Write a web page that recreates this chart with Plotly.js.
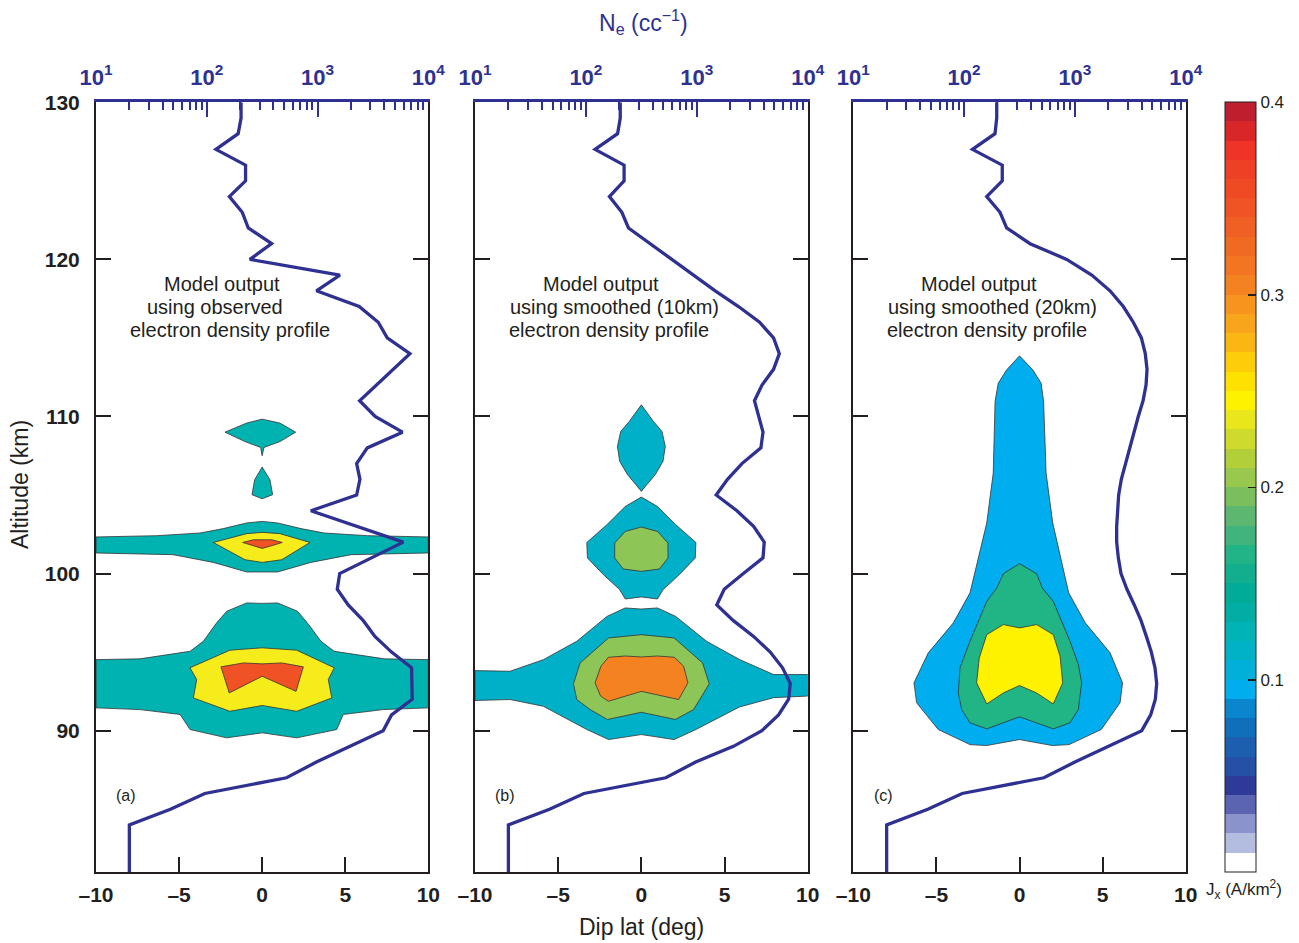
<!DOCTYPE html>
<html>
<head>
<meta charset="utf-8">
<script src="https://cdn.plot.ly/plotly-3.0.1.min.js"></script>
<style>html,body{margin:0;padding:0;background:#fff;}#chart{width:1299px;height:943px;}</style>
</head>
<body>
<div id="chart"></div>
<script>
// ---------------- DATA ----------------
// Electron density profiles (altitude km, Ne cc^-1)
const altA = [130,129,128,127,126,125,124,123,122,121,120,119,118,117,116,115,114,111,110,109,108,107,106,105,104,103,102,100,99,98,97,96,95,94,93,92,91,90,88,87,86,85,84,81];
const neA  = [204,204,192,121,224,224,160,209,237,385,245,1592,977,2377,3532,4256,6823,2399,3311,5848,2812,2254,2415,2254,871,2254,5943,1585,1507,1892,2588,3296,4656,7063,7161,7161,4656,3917,977,525,96,47,20,20];

const altB = [130,129,128,127,126,125,124,123,122,121,120,119,118,117,116,115,114,113,112,111,110,109,108,107,106,105,104,103,102,101,100,99,98,97,96,95,94,93,92,91,90,89,88,87,86,85,84,81];
const neB  = [204,204,193,121,221,221,163,211,242,380,596,933,1466,2377,3681,4920,5546,4920,3873,3311,3606,3954,3784,2553,1892,1496,2301,3251,4055,3954,2630,1766,1514,2138,3251,4592,5929,6966,6730,5458,3864,2138,977,525,96,47,20,20];

const altC = [130,129,128,127,126,125,124,123,122,121,120,119,118,117,116,115,114,113,112,111,110,109,108,107,106,105,104,103,102,101,100,99,98,97,96,95,94,93,92,91,90,88,87,86,85,84,81];
const neC  = [197,197,190,119,221,221,160,211,242,394,843,1419,2075,2735,3365,3981,4315,4477,4385,4121,3733,3412,3097,2831,2624,2483,2415,2382,2382,2466,2606,2951,3436,3954,4416,4898,5284,5470,5321,4831,4009,1000,525,96,47,20,20];

// Filled current-density contours (dip lat deg, altitude km)
// Panel (a)
const aBlobTopLat = [-2.24,-0.93,0,1.07,2.02,1.07,0.11,0,-0.09,-1.03,-2.24];
const aBlobTopAlt = [109.0,109.58,109.83,109.58,109.0,108.4,108.03,107.5,108.03,108.4,109.0];
const aBlobSmLat  = [0,0.47,0.63,0,-0.61,-0.45,0];
const aBlobSmAlt  = [106.78,105.97,105.02,104.76,105.02,105.97,106.78];
const aBandLat = [-10,-6.35,-3.74,-2.34,-0.93,0,0.93,2.34,3.74,6.35,10, 10,5.35,2.94,0.93,0,-0.93,-2.94,-5.35,-10,-10];
const aBandAlt = [102.33,102.41,102.58,102.86,103.22,103.32,103.22,102.86,102.58,102.41,102.33, 101.31,101.2,100.71,100.1,100.1,100.1,100.71,101.2,101.31,102.33];
const aBandYLat = [-2.94,-0.93,0,1.07,2.88,1.18,0,-1.03,-2.94];
const aBandYAlt = [101.98,102.54,102.62,102.54,101.98,100.88,100.71,100.88,101.98];
const aBandRLat = [-1.17,-0.53,0.57,1.21,0.57,0,-0.53,-1.17];
const aBandRAlt = [101.98,102.15,102.15,101.98,101.77,101.6,101.77,101.98];
const aLowLat = [-10,-7.35,-4.34,-3.54,-2.74,-2.13,-0.93,0,0.93,2.13,2.8,3.54,4.34,7.35,10, 10,7.29,4.88,4.49,2.08,0,-2.13,-4.34,-4.94,-7.35,-10,-10];
const aLowAlt = [94.52,94.57,95.05,95.69,96.86,97.6,98.13,98.1,98.13,97.6,96.75,95.69,95.05,94.57,94.52, 91.45,91.34,91.03,90.07,89.54,89.86,89.54,90.07,91.03,91.34,91.45,94.52];
const aLowYLat = [-4.34,-1.94,0,2.08,4.34,3.98,4.19,2.08,0,-1.94,-4.14,-3.94,-4.34];
const aLowYAlt = [94.0,95.12,95.27,95.12,94.0,93.25,92.08,91.23,91.6,91.23,92.08,93.25,94.0];
const aLowRLat = [-2.48,-1.13,0,1.18,2.48,2.04,0,-1.98,-2.48];
const aLowRAlt = [94.06,94.31,94.25,94.31,94.06,92.5,93.46,92.4,94.06];
// Panel (b)
const bBlobTopLat = [0,0.73,1.24,1.44,1.3,0.83,0.33,0,-0.33,-0.83,-1.3,-1.44,-1.24,-0.73,0];
const bBlobTopAlt = [110.74,109.68,109.05,108.09,107.14,106.29,105.66,105.23,105.66,106.29,107.14,108.09,109.05,109.68,110.74];
const bMidLat = [0,-0.97,-2.07,-3.28,-3.24,-2.28,-1.31,-0.97,0,0.97,1.31,2.28,3.24,3.28,2.07,0.97,0];
const bMidAlt = [104.87,104.27,103.11,101.98,100.99,99.93,98.98,98.38,98.51,98.38,98.98,99.93,100.99,101.98,103.11,104.27,104.87];
const bMidGLat = [-1.6,-0.97,0,0.97,1.6,1.6,1.09,0,-1.09,-1.6,-1.6];
const bMidGAlt = [101.94,102.68,102.96,102.68,101.94,100.99,100.29,100.14,100.29,100.99,101.94];
const bLowLat = [-10,-7.89,-5.89,-3.88,-2.07,-0.97,0,0.97,2.07,3.92,5.92,7.95,10, 10,7.95,5.89,3.28,1.97,0,-1.97,-3.28,-5.89,-7.89,-10,-10];
const bLowAlt = [93.82,93.78,94.52,95.69,97.27,97.81,97.74,97.81,97.27,95.69,94.52,93.57,93.57, 92.2,92.1,91.5,90.07,89.43,89.75,89.43,90.07,91.55,91.98,91.92,93.82];
const bLowGLat = [-4.08,-3.68,-1.97,0,1.97,3.68,4.08,3.14,2.04,0,-2.04,-3.08,-3.88,-4.08];
const bLowGAlt = [92.98,94.31,95.9,96.11,95.9,94.31,92.98,91.34,90.71,91.17,90.71,91.34,91.98,92.98];
const bLowOLat = [-2.78,-2.43,-1.98,-0.97,0,0.97,1.98,2.54,2.8,2.24,0,-1.98,-2.45,-2.78];
const bLowOAlt = [93.04,94.1,94.67,94.75,94.69,94.75,94.67,94.1,93.04,91.98,92.5,91.87,92.2,93.04];
// Panel (c)
const cOutLat = [0,-0.77,-1.28,-1.47,-1.58,-1.97,-2.98,-3.98,-5.49,-6.35,-6.19,-4.89,-2.98,-1.98,0,1.98,2.98,4.92,6.05,6.2,5.45,3.96,2.96,2.0,1.6,1.45,1.3,0.8,0];
const cOutAlt = [113.86,112.97,112.12,110.95,106.4,103.22,98.77,96.86,94.95,93.04,91.77,90.07,89.11,89.05,89.43,89.05,89.11,90.07,91.77,93.04,94.95,96.86,98.77,103.22,106.4,110.95,112.12,112.97,113.86];
const cGrnLat = [0,-0.97,-1.37,-1.97,-2.98,-3.58,-3.68,-3.48,-2.98,-1.97,0,2.04,3.04,3.54,3.74,3.54,3.04,2.03,1.37,1.03,0];
const cGrnAlt = [100.63,99.99,99.08,98.23,95.69,94.0,92.4,91.34,90.5,90.11,90.88,90.11,90.5,91.34,93.04,94.2,95.69,98.23,99.08,99.99,100.63];
const cYelLat = [-1.97,-0.97,0,1.03,2.03,2.44,2.6,2.03,1.03,0,-0.97,-1.97,-2.58,-2.42,-1.97];
const cYelAlt = [96.11,96.75,96.54,96.75,96.11,94.74,93.04,91.7,92.4,92.87,92.4,91.7,93.04,94.63,96.11];

// Colour bar (J_x, A/km^2) — one colour per 0.01 band from 0 to 0.4
const cbarColors = ['#ffffff','#b3bde0','#8a93cc','#5a64b0','#2e3a97','#2650a5','#1b5fae','#106fbb','#0a86cf','#00aeef',
  '#00b0d8','#00b2c6','#00b3b5','#00aea6','#00ac98','#12ae8e','#22b487','#40b47c','#5cb870','#7abe5e',
  '#98c84e','#b2cf3a','#cfdb2c','#eae61c','#fff200','#ffe100','#fdcd0a','#fbb614','#f8a51b','#f6941e',
  '#f58220','#f37521','#f16a22','#f05f23','#f05424','#ef4a24','#ee4025','#ed3426','#d92629','#be1e2d'];
const cbarTicks = [0.1,0.2,0.3,0.4];
const cbarTickText = ['0.1','0.2','0.3','0.4'];

const latTicks = [-10,-5,0,5,10];
const latTickText = ['\u201310','\u20135','0','5','10'];
const altTicks = [90,100,110,120,130];
const neTicks = [10,100,1000,10000];
const neTickText = ['10<sup>1</sup>','10<sup>2</sup>','10<sup>3</sup>','10<sup>4</sup>'];
const neMinor = [20,30,40,50,60,70,80,90,200,300,400,500,600,700,800,900,2000,3000,4000,5000,6000,7000,8000,9000];

// ---------------- STYLE ----------------
const FONT = 'Liberation Sans, Arial, sans-serif';
const BLUE = '#2e3192';
const INK = '#231f20';
const W = 1299, H = 943;
const px = v => v / W;
const py = v => 1 - v / H;

const TEAL_A = '#00b3b0', YEL_A = '#f7ec1b', RED_A = '#f05225';
const TEAL_B = '#00b0c8', GRN_B = '#8dc657', ORG_B = '#f58220';
const BLUE_C = '#00aeef', GRN_C = '#21b586', YEL_C = '#fff200';

function poly(lat, alt, color, xa, ya) {
  return {type:'scatter', mode:'lines', x: lat, y: alt, xaxis: xa, yaxis: ya,
    fill:'toself', fillcolor: color, line:{color:'#333333', width:0.8},
    hoverinfo:'skip', showlegend:false};
}
function prof(ne, alt, xa, ya) {
  return {type:'scatter', mode:'lines', x: ne, y: alt, xaxis: xa, yaxis: ya,
    line:{color: BLUE, width:3.3}, hoverinfo:'skip', showlegend:false};
}

const traces = [
  poly(aBlobTopLat, aBlobTopAlt, TEAL_A, 'x', 'y'),
  poly(aBlobSmLat, aBlobSmAlt, TEAL_A, 'x', 'y'),
  poly(aBandLat, aBandAlt, TEAL_A, 'x', 'y'),
  poly(aBandYLat, aBandYAlt, YEL_A, 'x', 'y'),
  poly(aBandRLat, aBandRAlt, RED_A, 'x', 'y'),
  poly(aLowLat, aLowAlt, TEAL_A, 'x', 'y'),
  poly(aLowYLat, aLowYAlt, YEL_A, 'x', 'y'),
  poly(aLowRLat, aLowRAlt, RED_A, 'x', 'y'),

  poly(bBlobTopLat, bBlobTopAlt, TEAL_B, 'x2', 'y2'),
  poly(bMidLat, bMidAlt, TEAL_B, 'x2', 'y2'),
  poly(bMidGLat, bMidGAlt, GRN_B, 'x2', 'y2'),
  poly(bLowLat, bLowAlt, TEAL_B, 'x2', 'y2'),
  poly(bLowGLat, bLowGAlt, GRN_B, 'x2', 'y2'),
  poly(bLowOLat, bLowOAlt, ORG_B, 'x2', 'y2'),

  poly(cOutLat, cOutAlt, BLUE_C, 'x3', 'y3'),
  poly(cGrnLat, cGrnAlt, GRN_C, 'x3', 'y3'),
  poly(cYelLat, cYelAlt, YEL_C, 'x3', 'y3'),

  prof(neA, altA, 'x4', 'y'),
  prof(neB, altB, 'x5', 'y2'),
  prof(neC, altC, 'x6', 'y3'),
];

// colour bar holder
const cscale = [];
cbarColors.forEach((c, i) => {
  cscale.push([i / cbarColors.length, c]);
  cscale.push([(i + 1) / cbarColors.length, c]);
});
const yDom = [1 - 872 / H, 1 - 102.3 / H];
traces.push({
  type:'scatter', mode:'markers', x:[null], y:[null], xaxis:'x', yaxis:'y', showlegend:false, hoverinfo:'skip',
  marker:{color:[0], cmin:0, cmax:0.4, colorscale: cscale, showscale:true,
    colorbar:{x: px(1225), xanchor:'left', xpad:0, y: yDom[1], yanchor:'top', ypad:0,
      len: yDom[1] - yDom[0], lenmode:'fraction', thickness:31, thicknessmode:'pixels',
      outlinewidth:1, outlinecolor: INK, borderwidth:0,
      tickmode:'array', tickvals: cbarTicks, ticktext: cbarTickText,
      ticks:'inside', ticklen:8, tickwidth:1.5, tickcolor: INK,
      tickfont:{family: FONT, size:17, color: INK}}}
});

const domA = [px(96), px(428.3)], domB = [px(475), px(807.7)], domC = [px(853.3), px(1185.7)];

function xBottom(dom, anchor) {
  return {domain: dom, anchor: anchor, range:[-10,10], tickmode:'array', tickvals: latTicks, ticktext: latTickText,
    ticks:'inside', ticklen:15, tickwidth:2, tickcolor: INK, showline:true, linecolor: INK, linewidth:2,
    mirror:false, showgrid:false, zeroline:false, ticklabelstandoff:3,
    tickfont:{family: FONT, size:21, color: INK, weight:'bold'}, fixedrange:true};
}
function yLeft(anchor, labels) {
  return {domain: yDom, anchor: anchor, range:[81,130], tickmode:'array', tickvals: altTicks,
    ticks:'inside', ticklen:15, tickwidth:2, tickcolor: INK, showline:true, linecolor: INK, linewidth:2,
    mirror:'ticks', showgrid:false, zeroline:false, showticklabels: labels, ticklabelstandoff:10,
    tickfont:{family: FONT, size:21, color: INK, weight:'bold'}, fixedrange:true};
}
function xTop(over, anchor) {
  return {overlaying: over, anchor: anchor, side:'top', type:'log', range:[1,4],
    tickmode:'array', tickvals: neTicks, ticktext: neTickText,
    ticks:'inside', ticklen:15, tickwidth:2, tickcolor: BLUE,
    minor:{tickmode:'array', tickvals: neMinor, ticks:'inside', ticklen:8, tickwidth:2, tickcolor: BLUE, showgrid:false},
    showline:true, linecolor: BLUE, linewidth:3, showgrid:false, zeroline:false, ticklabelstandoff:6,
    tickfont:{family: FONT, size:22, color: BLUE, weight:'bold'}, fixedrange:true};
}

const ann = [];
function txt(text, x, y, opts) {
  ann.push(Object.assign({text: text, xref:'paper', yref:'paper', x: px(x), y: py(y), showarrow:false,
    xanchor:'center', yanchor:'middle', font:{family: FONT, size:20, color: INK}}, opts || {}));
}
txt('Model output', 221.5, 284);
txt('using observed', 214.5, 307);
txt('electron density profile', 230, 330);
txt('Model output', 601, 284);
txt('using smoothed (10km)', 614, 307);
txt('electron density profile', 609, 330);
txt('Model output', 979, 284);
txt('using smoothed (20km)', 992, 307);
txt('electron density profile', 987, 330);
txt('(a)', 126, 795, {font:{family: FONT, size:16, color: INK}});
txt('(b)', 505, 795, {font:{family: FONT, size:16, color: INK}});
txt('(c)', 883, 795, {font:{family: FONT, size:16, color: INK}});
txt('Dip lat (deg)', 641, 927, {font:{family: FONT, size:23, color: INK}});
txt('Altitude (km)', 20, 485, {textangle:-90, font:{family: FONT, size:23, color: INK}});
txt('N<sub>e</sub> (cc<sup>\u22121</sup>)', 643, 22, {font:{family: FONT, size:23, color: BLUE}});
txt('J<sub>x</sub> (A/km<sup>2</sup>)', 1244, 889, {font:{family: FONT, size:17, color: INK}});

// left-side tick dashes on the colour bar
const shapes = cbarTicks.slice(0, 3).map(v => {
  const yy = yDom[0] + (v / 0.4) * (yDom[1] - yDom[0]);
  return {type:'line', xref:'paper', yref:'paper', x0: px(1225), x1: px(1233), y0: yy, y1: yy,
    line:{color: INK, width:1.5}};
});

const layout = {
  width: W, height: H, margin:{l:0, r:0, t:0, b:0, pad:0},
  paper_bgcolor:'#ffffff', plot_bgcolor:'rgba(0,0,0,0)', showlegend:false,
  font:{family: FONT, color: INK},
  xaxis: xBottom(domA, 'y'), xaxis2: xBottom(domB, 'y2'), xaxis3: xBottom(domC, 'y3'),
  yaxis: yLeft('x', true), yaxis2: yLeft('x2', false), yaxis3: yLeft('x3', false),
  xaxis4: xTop('x', 'y'), xaxis5: xTop('x2', 'y2'), xaxis6: xTop('x3', 'y3'),
  annotations: ann, shapes: shapes
};

Plotly.newPlot('chart', traces, layout, {displayModeBar:false, staticPlot:true});
</script>
</body>
</html>
